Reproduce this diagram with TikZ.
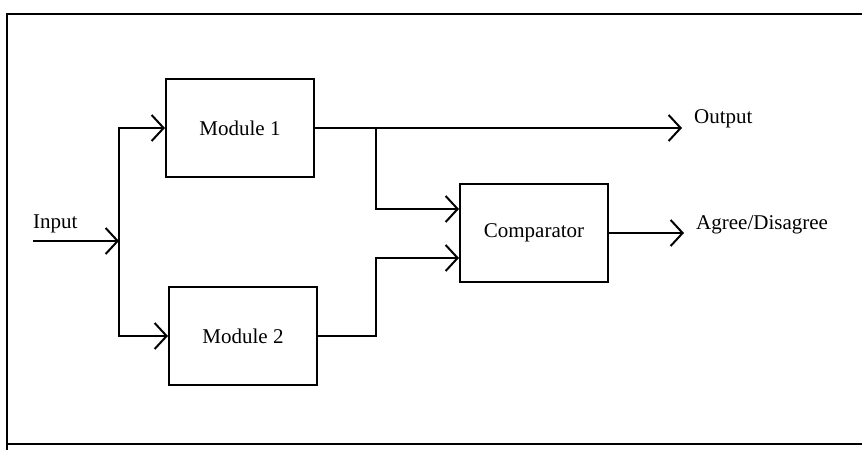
\documentclass[tikz,border=0pt]{standalone}
\usepackage{fontspec}
\setmainfont{Liberation Serif}
\usetikzlibrary{arrows.meta, positioning, calc}

\begin{document}
\begin{tikzpicture}[x=1pt, y=-1pt,
  blk/.style={draw, line width=2pt, minimum width=148pt, minimum height=98pt, inner sep=0pt},
  wire/.style={line width=2pt},
  arr/.style={wire, -{Straight Barb[length=12pt, width=26pt]}},
  lbl/.style={font=\fontsize{21}{25}\selectfont, inner sep=0pt}]
  \useasboundingbox (0,0) rectangle (862,450);
  % frame
  \draw[wire] (862,14) -- (7,14) -- (7,450);
  \draw[wire] (7,444) -- (862,444);
  % blocks
  \node[blk, lbl] (m1) at (240,128) {Module 1};
  \node[blk, lbl] (m2) at (243,336) {Module 2};
  \node[blk, lbl] (comp) at (534,233) {Comparator};
  % input side
  \coordinate (in) at (33,241);
  \coordinate (split) at (119,241);
  \node[lbl, above right=8pt and 0pt of in] (inlbl) {Input};
  \draw[arr] (in) -- (split);
  \draw[arr] (split) |- (m1.west);
  \draw[arr] (split) |- (m2.west);
  % outputs
  \coordinate (tap1) at ([xshift=61pt]m1.east);
  \coordinate (out) at ([xshift=367pt]m1.east);
  \coordinate (agr) at ([xshift=75pt]comp.east);
  \draw[arr] (m1.east) -- (out);
  \node[lbl, right=12pt of out, yshift=9pt] (outlbl) {Output};
  \draw[arr] (tap1) |- ([yshift=24pt]comp.west);
  \draw[arr] (m2.east) -- (m2.east -| tap1) |- ([yshift=-25pt]comp.west);
  \draw[arr] (comp.east) -- (agr);
  \node[lbl, right=12pt of agr, yshift=8pt] (agrlbl) {Agree/Disagree};
\end{tikzpicture}
\end{document}
